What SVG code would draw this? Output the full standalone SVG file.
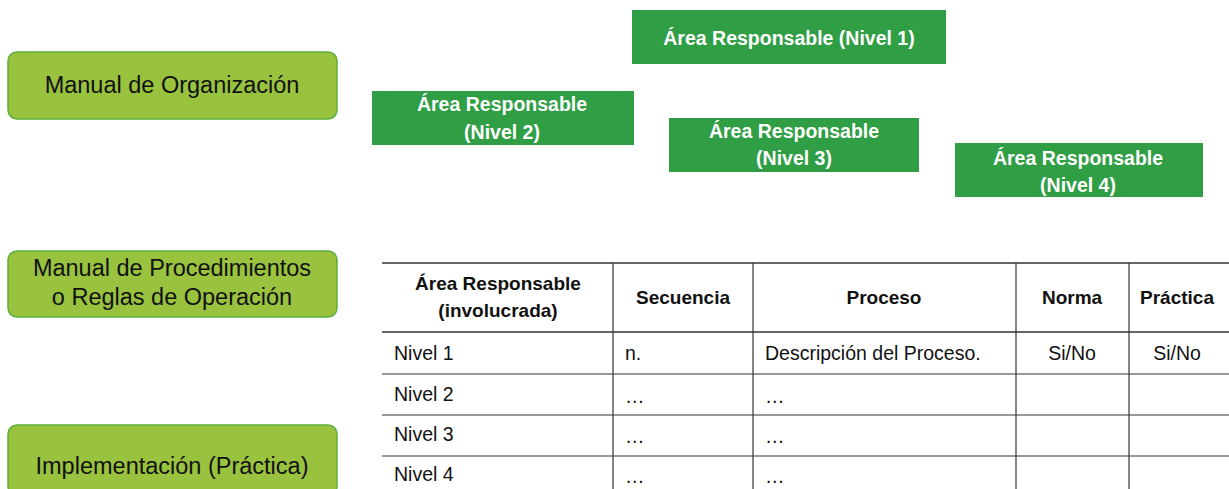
<svg xmlns="http://www.w3.org/2000/svg" width="1229" height="489" viewBox="0 0 1229 489">
<style>
.lg{fill:#99C23F;stroke:#5DAF3C;stroke-width:1.5}
.dg{fill:#2F9E44}
.lt{font-family:"Liberation Sans",Arial,sans-serif;font-size:23.5px;fill:#111;text-anchor:middle}
.wt{font-family:"Liberation Sans",Arial,sans-serif;font-size:19.5px;font-weight:bold;fill:#fff;text-anchor:middle}
.th{font-family:"Liberation Sans",Arial,sans-serif;font-size:19px;font-weight:bold;fill:#111;text-anchor:middle}
.td{font-family:"Liberation Sans",Arial,sans-serif;font-size:19.5px;fill:#111}
.tc{text-anchor:middle}
.hl{stroke:#333;stroke-width:1.6}
.rl{stroke:#333;stroke-width:1.2}
</style>
<rect width="1229" height="489" fill="#fff"/>
<g id="manual-organizacion">
<rect class="lg" x="8" y="52" width="329" height="67" rx="9"/>
<text class="lt" x="172" y="93">Manual de Organización</text>
</g>
<g id="manual-procedimientos">
<rect class="lg" x="8" y="251" width="329" height="66" rx="9"/>
<text class="lt" x="172" y="276">Manual de Procedimientos</text>
<text class="lt" x="172" y="305">o Reglas de Operación</text>
</g>
<g id="implementacion">
<rect class="lg" x="8" y="425" width="329" height="70" rx="9"/>
<text class="lt" x="172" y="474">Implementación (Práctica)</text>
</g>
<g id="nivel1">
<rect class="dg" x="632" y="10" width="314" height="54"/>
<text class="wt" x="789" y="45">Área Responsable (Nivel 1)</text>
</g>
<g id="nivel2">
<rect class="dg" x="372" y="91" width="262" height="54"/>
<text class="wt" x="502" y="111">Área Responsable</text>
<text class="wt" x="502" y="139">(Nivel 2)</text>
</g>
<g id="nivel3">
<rect class="dg" x="669" y="118" width="250" height="54"/>
<text class="wt" x="794" y="138">Área Responsable</text>
<text class="wt" x="794" y="165">(Nivel 3)</text>
</g>
<g id="nivel4">
<rect class="dg" x="955" y="143" width="248" height="54"/>
<text class="wt" x="1078" y="165">Área Responsable</text>
<text class="wt" x="1078" y="192">(Nivel 4)</text>
</g>
<g id="tabla">
<line class="hl" x1="382" y1="263" x2="1229" y2="263"/>
<line class="hl" x1="382" y1="332" x2="1229" y2="332"/>
<line class="rl" x1="382" y1="374" x2="1229" y2="374"/>
<line class="rl" x1="382" y1="415" x2="1229" y2="415"/>
<line class="rl" x1="382" y1="456" x2="1229" y2="456"/>
<line class="rl" x1="613" y1="263" x2="613" y2="489"/>
<line class="rl" x1="753" y1="263" x2="753" y2="489"/>
<line class="rl" x1="1016" y1="263" x2="1016" y2="489"/>
<line class="rl" x1="1129" y1="263" x2="1129" y2="489"/>
<text class="th" x="498" y="290">Área Responsable</text>
<text class="th" x="498" y="317">(involucrada)</text>
<text class="th" x="683" y="304">Secuencia</text>
<text class="th" x="884" y="304">Proceso</text>
<text class="th" x="1072" y="304">Norma</text>
<text class="th" x="1177" y="304">Práctica</text>
<text class="td" x="394" y="360">Nivel 1</text>
<text class="td" x="625" y="360">n.</text>
<text class="td" x="765" y="360">Descripción del Proceso.</text>
<text class="td tc" x="1072" y="360">Si/No</text>
<text class="td tc" x="1177" y="360">Si/No</text>
<text class="td" x="394" y="401">Nivel 2</text>
<text class="td" x="625" y="403">…</text>
<text class="td" x="765" y="403">…</text>
<text class="td" x="394" y="441">Nivel 3</text>
<text class="td" x="625" y="443">…</text>
<text class="td" x="765" y="443">…</text>
<text class="td" x="394" y="481">Nivel 4</text>
<text class="td" x="625" y="483">…</text>
<text class="td" x="765" y="483">…</text>
</g>
</svg>
